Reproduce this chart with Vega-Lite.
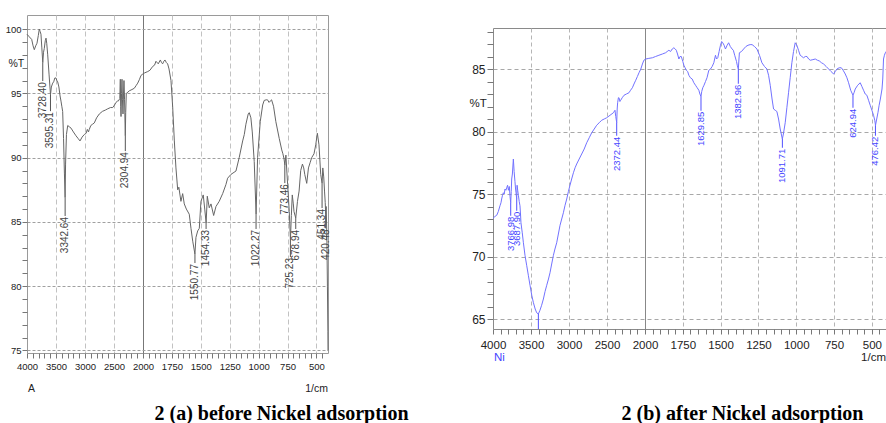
{
  "$schema": "https://vega.github.io/schema/vega-lite/v6.json",
  "autosize": {"type": "pad"},
  "padding": {"left": 4, "top": 14, "right": 0, "bottom": 0},
  "background": "white",
  "datasets": {
    "a": [
      {"wn":4000,"T":99.6},{"wn":3960,"T":99.4},{"wn":3919,"T":99.2},{"wn":3895,"T":98.7},{"wn":3874,"T":98.4},{"wn":3850,"T":98.7},{"wn":3828,"T":98.9},{"wn":3805,"T":99.5},{"wn":3788,"T":100.0},{"wn":3772,"T":99.8},{"wn":3759,"T":99.6},{"wn":3745,"T":98.6},{"wn":3728,"T":97.4},{"wn":3715,"T":98.2},{"wn":3702,"T":98.5},{"wn":3685,"T":99.1},{"wn":3672,"T":99.3},{"wn":3660,"T":98.9},{"wn":3643,"T":98.0},{"wn":3620,"T":96.5},{"wn":3595,"T":94.9},{"wn":3580,"T":95.5},{"wn":3557,"T":95.8},{"wn":3540,"T":95.9},{"wn":3520,"T":96.2},{"wn":3500,"T":96.2},{"wn":3485,"T":96.0},{"wn":3471,"T":95.9},{"wn":3450,"T":95.5},{"wn":3430,"T":94.8},{"wn":3414,"T":94.4},{"wn":3400,"T":94.0},{"wn":3385,"T":93.6},{"wn":3370,"T":91.5},{"wn":3355,"T":88.8},{"wn":3343,"T":86.9},{"wn":3335,"T":89.5},{"wn":3320,"T":91.8},{"wn":3298,"T":92.5},{"wn":3270,"T":92.4},{"wn":3241,"T":92.3},{"wn":3200,"T":92.0},{"wn":3155,"T":91.7},{"wn":3120,"T":91.5},{"wn":3086,"T":91.3},{"wn":3050,"T":91.6},{"wn":3012,"T":91.8},{"wn":2980,"T":91.9},{"wn":2960,"T":92.2},{"wn":2940,"T":92.0},{"wn":2926,"T":92.2},{"wn":2900,"T":92.5},{"wn":2870,"T":92.6},{"wn":2840,"T":92.7},{"wn":2800,"T":93.1},{"wn":2753,"T":93.4},{"wn":2700,"T":93.6},{"wn":2650,"T":93.7},{"wn":2609,"T":93.8},{"wn":2560,"T":93.9},{"wn":2522,"T":93.9},{"wn":2490,"T":94.1},{"wn":2466,"T":94.3},{"wn":2440,"T":94.4},{"wn":2426,"T":94.4},{"wn":2400,"T":94.6},{"wn":2391,"T":96.1},{"wn":2385,"T":94.0},{"wn":2379,"T":93.2},{"wn":2370,"T":95.0},{"wn":2362,"T":96.1},{"wn":2354,"T":94.5},{"wn":2345,"T":93.4},{"wn":2336,"T":95.0},{"wn":2328,"T":96.0},{"wn":2318,"T":94.5},{"wn":2305,"T":91.7},{"wn":2298,"T":93.5},{"wn":2288,"T":95.0},{"wn":2260,"T":95.1},{"wn":2236,"T":95.2},{"wn":2190,"T":95.3},{"wn":2150,"T":95.4},{"wn":2120,"T":95.6},{"wn":2091,"T":95.8},{"wn":2060,"T":96.1},{"wn":2034,"T":96.4},{"wn":2005,"T":96.5},{"wn":1985,"T":96.6},{"wn":1959,"T":96.7},{"wn":1940,"T":96.8},{"wn":1916,"T":97.1},{"wn":1900,"T":97.2},{"wn":1888,"T":97.5},{"wn":1868,"T":97.3},{"wn":1850,"T":97.6},{"wn":1840,"T":97.4},{"wn":1830,"T":97.3},{"wn":1820,"T":97.5},{"wn":1810,"T":97.6},{"wn":1798,"T":97.4},{"wn":1787,"T":97.3},{"wn":1775,"T":96.9},{"wn":1758,"T":96.0},{"wn":1743,"T":93.9},{"wn":1729,"T":91.3},{"wn":1715,"T":89.2},{"wn":1700,"T":87.5},{"wn":1690,"T":87.7},{"wn":1672,"T":86.6},{"wn":1657,"T":87.2},{"wn":1643,"T":86.4},{"wn":1625,"T":86.0},{"wn":1600,"T":85.6},{"wn":1585,"T":84.5},{"wn":1570,"T":83.5},{"wn":1551,"T":82.5},{"wn":1542,"T":83.8},{"wn":1527,"T":84.3},{"wn":1513,"T":84.5},{"wn":1499,"T":86.6},{"wn":1479,"T":87.1},{"wn":1466,"T":86.0},{"wn":1454,"T":84.9},{"wn":1444,"T":87.0},{"wn":1427,"T":86.1},{"wn":1412,"T":86.4},{"wn":1389,"T":85.5},{"wn":1369,"T":86.2},{"wn":1341,"T":86.6},{"wn":1311,"T":87.2},{"wn":1283,"T":87.9},{"wn":1268,"T":88.4},{"wn":1239,"T":88.7},{"wn":1196,"T":88.96},{"wn":1168,"T":90.0},{"wn":1138,"T":91.3},{"wn":1124,"T":91.8},{"wn":1110,"T":92.6},{"wn":1090,"T":93.4},{"wn":1081,"T":93.5},{"wn":1067,"T":93.1},{"wn":1055,"T":92.0},{"wn":1038,"T":89.7},{"wn":1022,"T":85.6},{"wn":1009,"T":90.0},{"wn":986,"T":92.8},{"wn":965,"T":94.1},{"wn":952,"T":94.45},{"wn":935,"T":94.5},{"wn":923,"T":94.5},{"wn":910,"T":94.3},{"wn":900,"T":94.4},{"wn":888,"T":94.5},{"wn":871,"T":94.0},{"wn":851,"T":92.8},{"wn":822,"T":91.5},{"wn":800,"T":90.6},{"wn":790,"T":90.3},{"wn":780,"T":89.9},{"wn":773,"T":89.4},{"wn":764,"T":90.2},{"wn":755,"T":88.8},{"wn":749,"T":87.9},{"wn":735,"T":85.8},{"wn":725,"T":83.6},{"wn":717,"T":85.5},{"wn":709,"T":87.1},{"wn":700,"T":86.4},{"wn":694,"T":85.8},{"wn":679,"T":85.3},{"wn":664,"T":86.6},{"wn":650,"T":87.4},{"wn":636,"T":89.0},{"wn":621,"T":89.5},{"wn":610,"T":89.2},{"wn":601,"T":88.7},{"wn":584,"T":88.0},{"wn":569,"T":89.2},{"wn":555,"T":89.6},{"wn":541,"T":90.0},{"wn":521,"T":90.3},{"wn":506,"T":91.0},{"wn":492,"T":91.9},{"wn":478,"T":91.0},{"wn":463,"T":88.7},{"wn":451,"T":88.0},{"wn":445,"T":89.2},{"wn":437,"T":88.5},{"wn":430,"T":87.4},{"wn":424,"T":86.5},{"wn":420,"T":85.6},{"wn":416,"T":86.2},{"wn":410,"T":84.0},{"wn":405,"T":80.0},{"wn":401,"T":76.5},{"wn":400,"T":75.0}
    ],
    "apk": [
      {"wn":3728.4,"T":97.4,"T2":95.96,"label":"3728.40"},
      {"wn":3595.31,"T":94.9,"T2":93.62,"label":"3595.31"},
      {"wn":3342.64,"T":86.9,"T2":85.46,"label":"3342.64"},
      {"wn":2304.94,"T":91.7,"T2":90.51,"label":"2304.94"},
      {"wn":1550.77,"T":82.5,"T2":81.8,"label":"1550.77"},
      {"wn":1454.33,"T":84.9,"T2":84.45,"label":"1454.33"},
      {"wn":1022.27,"T":85.6,"T2":84.45,"label":"1022.27"},
      {"wn":773.46,"T":89.4,"T2":88.02,"label":"773.46"},
      {"wn":725.23,"T":83.6,"T2":82.27,"label":"725.23"},
      {"wn":678.94,"T":85.3,"T2":84.45,"label":"678.94"},
      {"wn":451.34,"T":88.0,"T2":86.08,"label":"451.34"},
      {"wn":420.48,"T":85.6,"T2":84.5,"label":"420.48"}
    ],
    "b": [
      {"wn":4000,"T":73.05},{"wn":3975,"T":73.2},{"wn":3951,"T":73.3},{"wn":3930,"T":73.6},{"wn":3908,"T":74.06},{"wn":3895,"T":74.3},{"wn":3886,"T":74.6},{"wn":3875,"T":74.9},{"wn":3864,"T":75.1},{"wn":3853,"T":75.0},{"wn":3842,"T":75.4},{"wn":3830,"T":75.3},{"wn":3820,"T":75.5},{"wn":3808,"T":75.7},{"wn":3797,"T":75.3},{"wn":3785,"T":75.6},{"wn":3776,"T":74.8},{"wn":3767,"T":74.3},{"wn":3760,"T":75.2},{"wn":3754,"T":76.2},{"wn":3745,"T":76.6},{"wn":3732,"T":77.8},{"wn":3722,"T":76.8},{"wn":3711,"T":76.0},{"wn":3703,"T":75.4},{"wn":3697,"T":75.1},{"wn":3688,"T":74.6},{"wn":3683,"T":75.7},{"wn":3675,"T":75.3},{"wn":3666,"T":74.9},{"wn":3655,"T":74.4},{"wn":3645,"T":74.06},{"wn":3638,"T":73.4},{"wn":3632,"T":72.7},{"wn":3615,"T":71.9},{"wn":3600,"T":71.1},{"wn":3579,"T":70.1},{"wn":3557,"T":69.3},{"wn":3535,"T":68.5},{"wn":3513,"T":67.7},{"wn":3490,"T":66.9},{"wn":3468,"T":66.3},{"wn":3445,"T":65.8},{"wn":3425,"T":65.5},{"wn":3403,"T":65.4},{"wn":3382,"T":65.7},{"wn":3360,"T":66.1},{"wn":3337,"T":66.6},{"wn":3315,"T":67.2},{"wn":3293,"T":67.7},{"wn":3270,"T":68.2},{"wn":3250,"T":68.7},{"wn":3228,"T":69.4},{"wn":3205,"T":70.1},{"wn":3185,"T":70.6},{"wn":3162,"T":71.1},{"wn":3140,"T":71.8},{"wn":3118,"T":72.5},{"wn":3096,"T":73.0},{"wn":3074,"T":73.5},{"wn":3052,"T":74.1},{"wn":3030,"T":74.6},{"wn":3008,"T":75.2},{"wn":2987,"T":75.7},{"wn":2965,"T":76.2},{"wn":2942,"T":76.7},{"wn":2920,"T":77.1},{"wn":2899,"T":77.4},{"wn":2866,"T":77.8},{"wn":2833,"T":78.2},{"wn":2800,"T":78.6},{"wn":2767,"T":79.1},{"wn":2734,"T":79.5},{"wn":2701,"T":79.9},{"wn":2668,"T":80.2},{"wn":2636,"T":80.5},{"wn":2603,"T":80.7},{"wn":2570,"T":80.9},{"wn":2537,"T":81.0},{"wn":2504,"T":81.1},{"wn":2460,"T":81.3},{"wn":2416,"T":81.5},{"wn":2395,"T":81.7},{"wn":2385,"T":81.2},{"wn":2372,"T":80.7},{"wn":2366,"T":81.8},{"wn":2360,"T":82.3},{"wn":2350,"T":82.7},{"wn":2342,"T":82.7},{"wn":2330,"T":82.4},{"wn":2320,"T":82.5},{"wn":2300,"T":82.7},{"wn":2276,"T":82.9},{"wn":2245,"T":83.0},{"wn":2211,"T":83.1},{"wn":2190,"T":83.3},{"wn":2166,"T":83.5},{"wn":2145,"T":83.8},{"wn":2122,"T":84.1},{"wn":2100,"T":84.4},{"wn":2079,"T":84.7},{"wn":2055,"T":85.0},{"wn":2034,"T":85.4},{"wn":2015,"T":85.7},{"wn":1995,"T":85.8},{"wn":1975,"T":85.85},{"wn":1951,"T":85.9},{"wn":1930,"T":86.0},{"wn":1908,"T":86.1},{"wn":1885,"T":86.2},{"wn":1864,"T":86.3},{"wn":1853,"T":86.4},{"wn":1842,"T":86.5},{"wn":1831,"T":86.4},{"wn":1820,"T":86.6},{"wn":1809,"T":86.7},{"wn":1800,"T":86.6},{"wn":1793,"T":86.5},{"wn":1785,"T":86.2},{"wn":1776,"T":85.8},{"wn":1768,"T":86.0},{"wn":1760,"T":86.0},{"wn":1750,"T":85.6},{"wn":1743,"T":85.3},{"wn":1735,"T":85.1},{"wn":1727,"T":84.9},{"wn":1718,"T":84.8},{"wn":1710,"T":84.5},{"wn":1700,"T":84.3},{"wn":1688,"T":84.2},{"wn":1677,"T":83.9},{"wn":1666,"T":83.7},{"wn":1655,"T":83.5},{"wn":1644,"T":83.3},{"wn":1637,"T":83.0},{"wn":1630,"T":82.8},{"wn":1625,"T":83.2},{"wn":1618,"T":83.5},{"wn":1610,"T":83.7},{"wn":1600,"T":84.0},{"wn":1590,"T":84.3},{"wn":1578,"T":84.9},{"wn":1567,"T":85.0},{"wn":1556,"T":85.2},{"wn":1545,"T":85.5},{"wn":1534,"T":86.1},{"wn":1527,"T":85.8},{"wn":1519,"T":85.9},{"wn":1510,"T":86.4},{"wn":1501,"T":86.9},{"wn":1493,"T":87.2},{"wn":1486,"T":87.1},{"wn":1477,"T":86.9},{"wn":1468,"T":86.6},{"wn":1457,"T":86.9},{"wn":1447,"T":87.1},{"wn":1436,"T":86.8},{"wn":1424,"T":86.6},{"wn":1416,"T":86.5},{"wn":1407,"T":86.1},{"wn":1395,"T":85.6},{"wn":1390,"T":85.3},{"wn":1383,"T":85.0},{"wn":1376,"T":86.3},{"wn":1362,"T":86.4},{"wn":1348,"T":86.6},{"wn":1333,"T":86.8},{"wn":1319,"T":86.9},{"wn":1305,"T":86.95},{"wn":1292,"T":86.95},{"wn":1276,"T":86.8},{"wn":1260,"T":86.6},{"wn":1243,"T":86.1},{"wn":1227,"T":85.5},{"wn":1210,"T":85.2},{"wn":1194,"T":85.0},{"wn":1183,"T":84.5},{"wn":1172,"T":83.7},{"wn":1160,"T":82.6},{"wn":1150,"T":81.8},{"wn":1139,"T":81.7},{"wn":1128,"T":81.6},{"wn":1117,"T":81.0},{"wn":1106,"T":80.2},{"wn":1099,"T":79.8},{"wn":1092,"T":79.4},{"wn":1085,"T":79.8},{"wn":1073,"T":80.7},{"wn":1062,"T":81.9},{"wn":1051,"T":83.1},{"wn":1040,"T":84.3},{"wn":1029,"T":85.5},{"wn":1018,"T":86.4},{"wn":1007,"T":87.1},{"wn":996,"T":86.9},{"wn":985,"T":86.5},{"wn":974,"T":86.1},{"wn":963,"T":86.0},{"wn":952,"T":85.9},{"wn":940,"T":86.0},{"wn":929,"T":86.0},{"wn":918,"T":85.8},{"wn":907,"T":85.7},{"wn":890,"T":85.75},{"wn":874,"T":85.8},{"wn":860,"T":85.7},{"wn":848,"T":85.65},{"wn":833,"T":85.5},{"wn":819,"T":85.4},{"wn":802,"T":85.2},{"wn":786,"T":85.0},{"wn":770,"T":84.8},{"wn":753,"T":84.6},{"wn":742,"T":84.8},{"wn":731,"T":85.0},{"wn":716,"T":85.1},{"wn":702,"T":85.1},{"wn":690,"T":84.9},{"wn":676,"T":84.6},{"wn":665,"T":84.3},{"wn":654,"T":83.9},{"wn":640,"T":83.3},{"wn":625,"T":82.9},{"wn":618,"T":83.1},{"wn":610,"T":83.4},{"wn":594,"T":83.7},{"wn":577,"T":83.9},{"wn":566,"T":83.6},{"wn":555,"T":83.3},{"wn":544,"T":83.0},{"wn":533,"T":82.9},{"wn":522,"T":82.5},{"wn":511,"T":82.1},{"wn":500,"T":81.7},{"wn":489,"T":81.3},{"wn":481,"T":80.9},{"wn":476,"T":80.5},{"wn":468,"T":81.0},{"wn":460,"T":81.5},{"wn":452,"T":82.1},{"wn":444,"T":82.6},{"wn":433,"T":83.4},{"wn":428,"T":84.2},{"wn":423,"T":85.8},{"wn":417,"T":86.1},{"wn":411,"T":86.3},{"wn":405,"T":86.4},{"wn":400,"T":86.5}
    ],
    "bpk": [
      {"wn":3766.98,"T":74.3,"T2":73.26,"label":"3766.98"},
      {"wn":3687.9,"T":74.6,"T2":73.66,"label":"3687.90"},
      {"wn":3403,"T":65.4,"T2":64.2,"label":""},
      {"wn":2372.44,"T":80.7,"T2":79.66,"label":"2372.44"},
      {"wn":1629.85,"T":82.8,"T2":81.66,"label":"1629.85"},
      {"wn":1382.96,"T":85.0,"T2":83.82,"label":"1382.96"},
      {"wn":1091.71,"T":79.4,"T2":78.7,"label":"1091.71"},
      {"wn":624.94,"T":82.9,"T2":81.9,"label":"624.94"},
      {"wn":476.42,"T":80.5,"T2":79.66,"label":"476.42"}
    ]
  },
  "bounds": "flush",
  "spacing": 165,
  "hconcat": [
    {
      "width": 301,
      "height": 338,
      "view": {"stroke": "#9a9a9a"},
      "encoding": {
        "x": {
          "field": "wn", "type": "quantitative",
          "scale": {"domain": [4000, 2000, 400], "range": [0, 116, 301], "nice": false, "zero": false},
          "axis": {
            "values": [4000,3900,3800,3700,3600,3500,3400,3300,3200,3100,3000,2900,2800,2700,2600,2500,2400,2300,2200,2100,2000,1950,1900,1850,1800,1750,1700,1650,1600,1550,1500,1450,1400,1350,1300,1250,1200,1150,1100,1050,1000,950,900,850,800,750,700,650,600,550,500,450],
            "format": "d",
            "labelExpr": "(datum.value >= 2000 ? datum.value % 500 === 0 : (datum.value % 250 === 0 && datum.value >= 500)) ? datum.label : ''",
            "labelFontSize": 9.5,
            "labelPadding": 3,
            "grid": true,
            "gridOpacity": {"condition": {"test": "(datum.value >= 2000 ? datum.value % 500 === 0 : (datum.value % 250 === 0 && datum.value >= 500)) && datum.value < 4000", "value": 1}, "value": 0},
            "gridDash": {"condition": {"test": "datum.value === 2000", "value": []}, "value": [5, 3]},
            "gridColor": {"condition": {"test": "datum.value === 2000", "value": "#777777"}, "value": "#c2c2c2"},
            "title": "2 (a) before Nickel adsorption",
            "titleX": 254, "titleY": 66,
            "titleAlign": "center", "titleBaseline": "alphabetic",
            "titleFont": "Liberation Serif, Times New Roman, serif", "titleFontSize": 20, "titleFontWeight": "bold", "titleColor": "#000000"
          }
        },
        "y": {
          "field": "T", "type": "quantitative",
          "scale": {"domain": [74.8, 101.1], "nice": false, "zero": false},
          "axis": {
            "values": [75,76,77,78,79,80,81,82,83,84,85,86,87,88,89,90,91,92,93,94,95,96,97,98,99,100],
            "labelExpr": "datum.value % 5 === 0 ? datum.label : ''",
            "labelFontSize": 9.5,
            "labelPadding": 1,
            "grid": true,
            "gridOpacity": {"condition": {"test": "datum.value % 5 === 0", "value": 1}, "value": 0},
            "gridDash": [3, 2],
            "gridColor": "#a0a0a0",
            "title": "%T",
            "titleAngle": 0, "titleX": -19, "titleY": 48,
            "titleAlign": "left", "titleBaseline": "middle",
            "titleFont": "Liberation Sans", "titleFontSize": 10.5, "titleFontWeight": "normal", "titleColor": "#222222"
          }
        }
      },
      "layer": [
        {"data": {"name": "a"}, "mark": {"type": "line", "color": "#666666", "strokeWidth": 1}},
        {"data": {"name": "apk"}, "mark": {"type": "rule", "color": "#555555", "strokeWidth": 1}, "encoding": {"y2": {"field": "T2"}}},
        {"data": {"name": "apk"}, "mark": {"type": "text", "angle": 270, "align": "right", "baseline": "middle", "font": "Liberation Sans", "fontSize": 10, "color": "#444444", "dx": -1}, "encoding": {"y": {"field": "T2", "type": "quantitative"}, "text": {"field": "label"}}},
        {"data": {"values": [{"wn": 4000, "T": 72.0, "label": "A"}]}, "mark": {"type": "text", "align": "left", "baseline": "middle", "font": "Liberation Sans", "fontSize": 10.5, "color": "#222222", "dx": 1}, "encoding": {"text": {"field": "label"}}},
        {"data": {"values": [{"wn": 400, "T": 72.0, "label": "1/cm"}]}, "mark": {"type": "text", "align": "right", "baseline": "middle", "font": "Liberation Sans", "fontSize": 10.5, "color": "#222222"}, "encoding": {"text": {"field": "label"}}}
      ]
    },
    {
      "bounds": "flush",
      "spacing": 0,
      "vconcat": [
        {
          "width": 394, "height": 13,
          "view": {"stroke": null},
          "data": {"values": [{}]},
          "mark": {"type": "text", "text": ""},
          "encoding": {}
        },
        {
          "width": 394,
          "height": 301,
          "view": {"stroke": "#8a8a8a"},
          "encoding": {
            "x": {
              "field": "wn", "type": "quantitative",
              "scale": {"domain": [4000, 2000, 400], "range": [0, 152, 394], "nice": false, "zero": false},
              "axis": {
                "values": [4000,3900,3800,3700,3600,3500,3400,3300,3200,3100,3000,2900,2800,2700,2600,2500,2400,2300,2200,2100,2000,1950,1900,1850,1800,1750,1700,1650,1600,1550,1500,1450,1400,1350,1300,1250,1200,1150,1100,1050,1000,950,900,850,800,750,700,650,600,550,500,450],
                "format": "d",
                "labelExpr": "(datum.value >= 2000 ? datum.value % 500 === 0 : (datum.value % 250 === 0 && datum.value >= 500)) ? datum.label : ''",
                "labelFontSize": 11.5,
                "labelPadding": 5,
                "grid": true,
                "gridOpacity": {"condition": {"test": "(datum.value >= 2000 ? datum.value % 500 === 0 : (datum.value % 250 === 0 && datum.value >= 500)) && datum.value < 4000", "value": 1}, "value": 0},
                "gridDash": {"condition": {"test": "datum.value === 2000", "value": []}, "value": [4, 3]},
                "gridColor": {"condition": {"test": "datum.value === 2000", "value": "#888888"}, "value": "#b5b5b5"},
                "title": "2 (b) after Nickel adsorption",
                "titleX": 249, "titleY": 90,
                "titleAlign": "center", "titleBaseline": "alphabetic",
                "titleFont": "Liberation Serif, Times New Roman, serif", "titleFontSize": 20, "titleFontWeight": "bold", "titleColor": "#000000"
              }
            },
            "y": {
              "field": "T", "type": "quantitative",
              "scale": {"domain": [64.2, 88.28], "nice": false, "zero": false},
              "axis": {
                "values": [65,66,67,68,69,70,71,72,73,74,75,76,77,78,79,80,81,82,83,84,85,86,87,88],
                "labelExpr": "datum.value % 5 === 0 ? datum.label : ''",
                "labelFontSize": 12,
                "labelPadding": 2,
                "tickSize": 6,
                "grid": true,
                "gridOpacity": {"condition": {"test": "datum.value % 5 === 0", "value": 1}, "value": 0},
                "gridDash": [4, 3],
                "gridColor": "#a8a8a8",
                "title": "%T",
                "titleAngle": 0, "titleX": -24, "titleY": 75,
                "titleAlign": "left", "titleBaseline": "middle",
                "titleFont": "Liberation Sans", "titleFontSize": 11.5, "titleFontWeight": "normal", "titleColor": "#222222"
              }
            }
          },
          "layer": [
            {"data": {"name": "b"}, "mark": {"type": "line", "color": "#7272ff", "strokeWidth": 1}},
            {"data": {"name": "bpk"}, "mark": {"type": "rule", "color": "#5050ff", "strokeWidth": 1}, "encoding": {"y2": {"field": "T2"}}},
            {"data": {"name": "bpk"}, "mark": {"type": "text", "angle": 270, "align": "right", "baseline": "middle", "font": "Liberation Sans", "fontSize": 9.5, "color": "#4646ff", "dx": -1}, "encoding": {"y": {"field": "T2", "type": "quantitative"}, "text": {"field": "label"}}},
            {"data": {"values": [{"wn": 4000, "T": 61.86, "label": "Ni"}]}, "mark": {"type": "text", "align": "left", "baseline": "middle", "font": "Liberation Sans", "fontSize": 11.5, "color": "#4646ff", "dx": 1}, "encoding": {"text": {"field": "label"}}},
            {"data": {"values": [{"wn": 400, "T": 61.86, "label": "1/cm"}]}, "mark": {"type": "text", "align": "right", "baseline": "middle", "font": "Liberation Sans", "fontSize": 11.5, "color": "#222222", "dx": -1}, "encoding": {"text": {"field": "label"}}}
          ]
        }
      ]
    }
  ],
  "config": {
    "font": "Liberation Sans",
    "view": {"stroke": "#999999"},
    "axis": {
      "domain": false,
      "tickColor": "#777777",
      "tickSize": 5,
      "labelColor": "#222222",
      "labelFont": "Liberation Sans",
      "labelFlush": false,
      "labelOverlap": false
    }
  }
}
